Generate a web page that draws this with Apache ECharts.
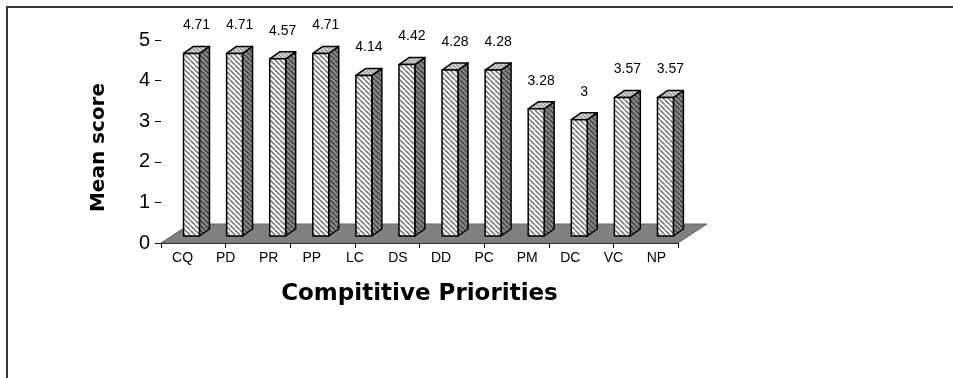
<!DOCTYPE html>
<html>
<head>
<meta charset="utf-8">
<script src="https://cdn.jsdelivr.net/npm/echarts@6/dist/echarts.min.js"></script>
<style>
  html, body { margin: 0; padding: 0; background: #fff; }
  #chart { width: 953px; height: 378px; }
</style>
</head>
<body>
<div id="chart"></div>
<script>
const categories = ['CQ', 'PD', 'PR', 'PP', 'LC', 'DS', 'DD', 'PC', 'PM', 'DC', 'VC', 'NP'];
const meanScores = [4.71, 4.71, 4.57, 4.71, 4.14, 4.42, 4.28, 4.28, 3.28, 3, 3.57, 3.57];
const scoreLabels = ['4.71', '4.71', '4.57', '4.71', '4.14', '4.42', '4.28', '4.28', '3.28', '3', '3.57', '3.57'];

const FONT = '"Liberation Sans", Arial, sans-serif';
const TITLE_FONT = '"DejaVu Sans", "Liberation Sans", Arial, sans-serif';

// diagonal hatch tile, "\" direction
function hatch(bg, fg, step, lw) {
  const c = document.createElement('canvas');
  c.width = step;
  c.height = step;
  const ctx = c.getContext('2d');
  ctx.fillStyle = bg;
  ctx.fillRect(0, 0, step, step);
  ctx.strokeStyle = fg;
  ctx.lineWidth = lw;
  for (let k = -1; k <= 1; k++) {
    ctx.beginPath();
    ctx.moveTo(k * step, 0);
    ctx.lineTo(k * step + step, step);
    ctx.stroke();
  }
  return { image: c, repeat: 'repeat' };
}

const frontFill = hatch('#ffffff', '#7c7c7c', 5, 1.6);
const sideFill = hatch('#8c8c8c', '#474747', 5, 1.6);
const topFill = hatch('#d4d4d4', '#959595', 4, 1.2);

// fake 3D depth
const FLOOR_DX = 29, FLOOR_DY = -19;
const BAR_DX = 10, BAR_DY = -7;
const BAR_LIFT = 7;        // bars stand a bit back on the floor
const BAR_PERSP = 0.955;   // back row is slightly shorter than the front axis

const chart = echarts.init(document.getElementById('chart'));

chart.setOption({
  animation: false,
  textStyle: { fontFamily: FONT, color: '#000' },
  grid: { left: 161, right: 275, top: 40, bottom: 135 },
  graphic: [{
    type: 'rect',
    shape: { x: 7, y: 7, width: 1000, height: 420 },
    style: { fill: 'none', stroke: '#333', lineWidth: 2 },
    silent: true
  }],
  xAxis: [{
    type: 'category',
    data: categories,
    axisLine: { show: false },
    axisTick: { show: false },
    axisLabel: { color: '#000', fontSize: 14, margin: 8, fontFamily: FONT },
    name: 'Compititive Priorities',
    nameLocation: 'middle',
    nameGap: 40,
    nameTextStyle: { fontSize: 23, fontWeight: 'bold', color: '#000', fontFamily: TITLE_FONT }
  }, {
    // front edge ticks of the floor
    type: 'value',
    position: 'bottom',
    min: 0,
    max: 8,
    interval: 1,
    axisLine: { show: true, onZero: false, lineStyle: { color: '#000', width: 1 } },
    axisTick: { show: true, length: 5, lineStyle: { color: '#000' } },
    axisLabel: { show: false },
    splitLine: { show: false }
  }],
  yAxis: {
    type: 'value',
    min: 0,
    max: 5,
    interval: 1,
    axisLine: { show: false },
    axisTick: { show: true, length: 6, lineStyle: { color: '#000' } },
    axisLabel: { color: '#000', fontSize: 20, margin: 11, fontFamily: FONT },
    splitLine: { show: false },
    name: 'Mean score',
    nameLocation: 'middle',
    nameGap: 52,
    nameTextStyle: {
      fontSize: 20, fontWeight: 'bold', color: '#000', fontFamily: TITLE_FONT,
      padding: [0, 12, 0, 0]
    }
  },
  series: [{
    // floor
    type: 'custom',
    xAxisIndex: 0,
    silent: true,
    z: 1,
    data: [[0, 0]],
    renderItem(params) {
      const cs = params.coordSys;
      const yb = cs.y + cs.height;
      return {
        type: 'polygon',
        shape: {
          points: [
            [cs.x, yb],
            [cs.x + cs.width, yb],
            [cs.x + cs.width + FLOOR_DX, yb + FLOOR_DY],
            [cs.x + FLOOR_DX, yb + FLOOR_DY]
          ]
        },
        style: { fill: '#808080', stroke: '#666', lineWidth: 1 }
      };
    }
  }, {
    type: 'custom',
    xAxisIndex: 0,
    silent: true,
    z: 3,
    data: meanScores.map((v, i) => [i, v]),
    renderItem(params, api) {
      const i = api.value(0);
      const v = api.value(1);
      const base = api.coord([i, 0]);
      const band = api.size([1, 0])[0];
      const h = api.size([0, v])[1] * BAR_PERSP;
      const w = band * 0.37;
      const x0 = base[0] + 1;
      const x1 = x0 + w;
      const yb = base[1] - BAR_LIFT;
      const yt = yb - h;
      const line = { stroke: '#000', lineWidth: 1.5, lineJoin: 'round' };
      return {
        type: 'group',
        children: [{
          type: 'polygon',
          shape: { points: [[x1, yb], [x1 + BAR_DX, yb + BAR_DY], [x1 + BAR_DX, yt + BAR_DY], [x1, yt]] },
          style: Object.assign({ fill: sideFill }, line)
        }, {
          type: 'polygon',
          shape: { points: [[x0, yt], [x1, yt], [x1 + BAR_DX, yt + BAR_DY], [x0 + BAR_DX, yt + BAR_DY]] },
          style: Object.assign({ fill: topFill }, line)
        }, {
          type: 'rect',
          shape: { x: x0, y: yt, width: w, height: h },
          style: Object.assign({ fill: frontFill }, line)
        }, {
          type: 'text',
          style: {
            x: x0 + (w + BAR_DX) / 2,
            y: yt - 28,
            text: scoreLabels[i],
            fill: '#000',
            font: '14px ' + FONT,
            align: 'center',
            verticalAlign: 'middle'
          }
        }]
      };
    }
  }]
});
</script>
</body>
</html>
